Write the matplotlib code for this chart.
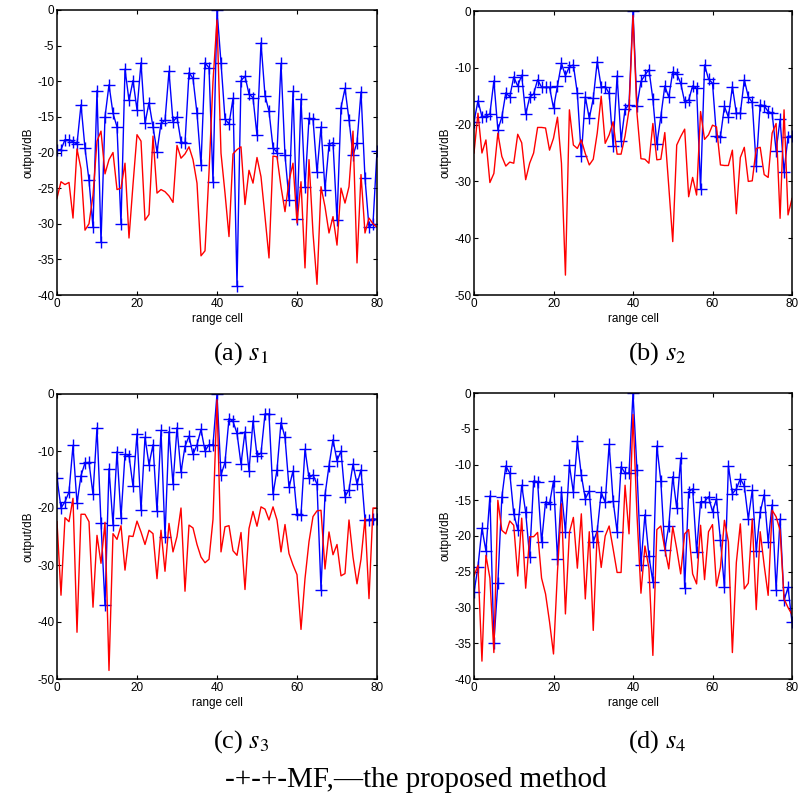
import numpy as np
import matplotlib
matplotlib.use('Agg')
from matplotlib import pyplot as plt

plt.rcParams['font.family'] = ['Liberation Sans', 'DejaVu Sans']
plt.rcParams['mathtext.fontset'] = 'stix'
plt.rcParams['axes.unicode_minus'] = False

cells = np.arange(0, 81)

# (a) s1
mf_a = [-19.6, -19.6, -18.2, -18.2, -18.5, -18.8, -13.3, -19.4, -23.9, -30.5,
        -11.3, -32.6, -15, -10.5, -14.5, -16.4, -30, -8.3, -12.7, -9.9,
        -14, -7.4, -15.9, -13, -16.4, -19.9, -15.9, -15.5, -8.6, -15.7,
        -15, -18.5, -18.7, -8.8, -9.6, -14.5, -21.7, -7.4, -8.1, -24.1,
        0,
        -7.4, -15.3, -16, -12.4, -38.7, -9.9, -9.3, -11.8, -12.3, -17.6,
        -4.6, -12, -14.2, -19.3, -20, -7.5, -20.4, -26.6, -11.4, -29.4,
        -12.5, -24.9, -15.2, -15.3, -22.8, -16.4, -25.2, -18.9, -18.6, -29.5,
        -13.7, -11, -15.4, -20.4, -18.6, -11.5, -23.6, -30.5, -30, -19.8]
pm_a = [-26.4, -24.1, -24.5, -24.2, -29.2, -19.5, -22.3, -30.9, -30, -26,
        -18.4, -17, -23, -21, -20, -25.2, -25, -21.5, -32, -24.5,
        -17.5, -18.4, -29.5, -28.7, -17.7, -25.7, -25.2, -25.5, -26.1, -27,
        -19, -20.8, -20.2, -19.2, -21, -24.3, -34.5, -33.8, -22.8, -10,
        -1.4,
        -20.1, -25.7, -31.8, -20.2, -19.6, -19.2, -27.3, -22.5, -24.3, -20.7,
        -23.4, -29, -34.8, -20.5, -20.6, -24.8, -28.3, -24, -21.5, -29.9,
        -24.1, -36.2, -21, -31.3, -38.5, -24.8, -27.6, -31.3, -29, -33,
        -25, -27.1, -24.8, -17, -35.5, -23.1, -31.3, -29.2, -30, -30.5]

# (b) s2
mf_b = [-19.5, -15.8, -18.6, -18.5, -18.1, -12.3, -20.9, -18.7, -14.4, -15.1,
        -11.6, -13.2, -11.3, -18.2, -15.2, -14.6, -12.1, -13.4, -13.4, -13.4,
        -17.1, -13.2, -9.2, -11.4, -9.8, -9.5, -14.5, -25.6, -15.1, -18.9,
        -15.4, -8.9, -13.4, -13.3, -14.5, -23.8, -11.4, -22.8, -17.3, -16.5,
        0,
        -16.7, -12.4, -11.3, -10.3, -15.5, -23.4, -18.6, -13.2, -15.2, -10.7,
        -11.1, -12.7, -16, -15.7, -13.2, -13.6, -31.4, -9.5, -12, -12.7,
        -22, -22.1, -16.8, -18.7, -13.3, -18, -18, -12.1, -15.1, -16.1,
        -27.3, -16.5, -16.7, -17.7, -18, -24.6, -19.1, -28.3, -22.1, -22]
pm_b = [-25, -18, -25, -22.7, -30.2, -28.6, -21.5, -25.6, -27.3, -26.6,
        -26.8, -21.7, -23.2, -29.7, -26.8, -25, -20.5, -20.5, -20.6, -24.5,
        -22.4, -18.7, -26.8, -46.5, -17.4, -23.6, -24.2, -22.7, -25.1, -27.1,
        -26.1, -21.5, -15, -23.3, -21.8, -19.5, -25.2, -25.2, -22, -17.4,
        -0.8,
        -18, -26, -26.1, -26.8, -19.8, -26.2, -26.1, -21.4, -30.9, -40.6,
        -23.6, -22.1, -20.8, -32.7, -29.3, -32.4, -17.7, -22.6, -21.8, -20.1,
        -20.4, -27.1, -27.2, -27.2, -24.5, -35.7, -25.8, -24, -30, -29.9,
        -24.2, -24, -28.8, -29.3, -21.5, -19.8, -36.5, -17.4, -35.9, -33]

# (c) s3
mf_c = [-14.7, -20, -18.9, -17.2, -9, -19.2, -14.3, -12.1, -12, -17.6,
        -5.9, -22.7, -37.1, -13.1, -22.9, -10.1, -21.7, -10.6, -10.8, -16.2,
        -7, -20.4, -7.6, -12.4, -8.9, -20.6, -6.4, -25, -6.6, -15.8,
        -5.9, -13.7, -9.2, -7.4, -10.6, -8.9, -6.2, -10, -8.9, -8.9,
        0,
        -14.2, -12, -4.3, -4.8, -6.9, -12.3, -6.6, -13.5, -4.7, -10.8,
        -10.4, -3.5, -3.5, -17.6, -13.3, -5, -7.6, -16.4, -13.5, -21.1,
        -21.2, -9.7, -14.7, -14.2, -15.8, -34.3, -17.7, -12.6, -8, -11.7,
        -10, -18, -16.8, -12.3, -15.8, -13.3, -22.1, -22.1, -21.9, -22]
pm_c = [-22.4, -35.3, -21.7, -22.4, -18.3, -41.8, -21.1, -21.1, -22.4, -37.4,
        -24.8, -29.7, -22.5, -48.5, -24.5, -25.5, -23.1, -30.9, -24.9, -25,
        -22.3, -24.2, -26.4, -23.9, -24.5, -32.4, -23.9, -31.1, -22.7, -27.7,
        -25, -20, -34.6, -23, -23.5, -26.4, -28.6, -29.6, -29, -22,
        -1,
        -27.7, -23.3, -23.1, -27.5, -28.3, -24.3, -34.3, -23.6, -20.6, -23.2,
        -19.8, -20.2, -22.1, -19.8, -22.1, -27.7, -22.9, -28, -30, -31.7,
        -41.3, -32.4, -25.9, -21.5, -20.5, -20.4, -30.7, -24.2, -28.2, -26.4,
        -31.9, -31.5, -22.1, -28.6, -33.3, -29, -21.8, -35.9, -20, -20]

# (d) s4
mf_d = [-27.9, -24.3, -18.9, -22.1, -14.4, -34.9, -26.6, -14.6, -10.2, -11.2,
        -16.9, -19.1, -12.9, -16.7, -22.9, -12.3, -12.4, -20.9, -15.2, -15.5,
        -12.3, -23.2, -13.8, -19.4, -10.1, -13.9, -6.7, -11.5, -14.8, -13.7,
        -20.8, -19.3, -13.9, -15.3, -7.2, -15.1, -19.4, -10.3, -11.2, -11.2,
        0,
        -10.8, -24, -17, -22.8, -26.4, -7.4, -12.3, -21.9, -18.6, -11.7,
        -16.1, -9.1, -27.3, -13.8, -13.4, -22.2, -15.2, -15.2, -14.5, -16.6,
        -14.8, -20.6, -27.2, -10.2, -14.1, -13.4, -12, -13, -17.6, -13.6,
        -22.1, -16.7, -14.2, -20.8, -15.6, -27.5, -17.6, -29, -27.2, -32]
pm_d = [-25.6, -24.1, -37.5, -22.7, -25.9, -36.3, -15, -19.2, -19.7, -17.9,
        -18.5, -25.6, -17.5, -27.3, -20.1, -20.1, -19.5, -25.9, -28.1, -32,
        -36.5, -25, -15.5, -30.9, -19.5, -17.4, -24.5, -16.9, -28.8, -19.4,
        -33.2, -19.4, -24.4, -20, -18.6, -21.8, -25.1, -25.1, -12.9, -19.7,
        -3,
        -17, -28, -21.4, -24.5, -36.7, -19.1, -18.6, -21.8, -24.6, -18.7,
        -21.8, -25.3, -19.7, -19.1, -25.3, -26.7, -18.5, -26.1, -19.4, -18.4,
        -27, -24.4, -17.8, -20.8, -36.3, -23.7, -18.3, -27.4, -26.6, -17.6,
        -30.3, -19.4, -24.1, -28.3, -16.4, -17.3, -19.2, -28.8, -30, -31]

panels = [
    (mf_a, pm_a, -40, 5, '(a) $s_1$'),
    (mf_b, pm_b, -50, 10, '(b) $s_2$'),
    (mf_c, pm_c, -50, 10, '(c) $s_3$'),
    (mf_d, pm_d, -40, 5, '(d) $s_4$'),
]

W, H = 799, 801
fig = plt.figure(figsize=(W / 100, H / 100), dpi=100)

# axes boxes in pixels: left, top, right, bottom
boxes = [(57, 10, 377, 295), (474, 11, 792, 295),
         (57, 394, 377, 679), (474, 393, 792, 679)]
cap_y = [354, 354, 742, 742]

for (mf, pm, ymin, ystep, cap), (l, t, r, b), cy in zip(panels, boxes, cap_y):
    ax = fig.add_axes([l / W, 1 - b / H, (r - l) / W, (b - t) / H])
    ax.plot(cells, mf, 'b-', marker='+', markersize=8, markeredgewidth=1.0, linewidth=1.0)
    ax.plot(cells, pm, 'r-', linewidth=1.0)
    ax.set_xlim(0, 80)
    ax.set_ylim(ymin, 0)
    ax.set_xticks([0, 20, 40, 60, 80])
    ax.set_yticks(np.arange(ymin, 1, ystep))
    ax.tick_params(direction='in', top=True, right=True, length=3, width=0.8,
                   labelsize=8.5, pad=2)
    for sp in ax.spines.values():
        sp.set_linewidth(1.1)
    ax.set_xlabel('range cell', fontsize=8.5, labelpad=2)
    ax.set_ylabel('output/dB', fontsize=8.5, labelpad=2)
    fig.text((l + r) / 2 / W + 0.03, 1 - cy / H, cap, fontsize=19,
             family='Liberation Serif', ha='center', va='center')

fig.text(416 / W, 1 - 780 / H, '-+-+-MF,\u2014the proposed method', fontsize=21,
         family='Liberation Serif', ha='center', va='center')

fig.savefig('out.png', dpi=100)
